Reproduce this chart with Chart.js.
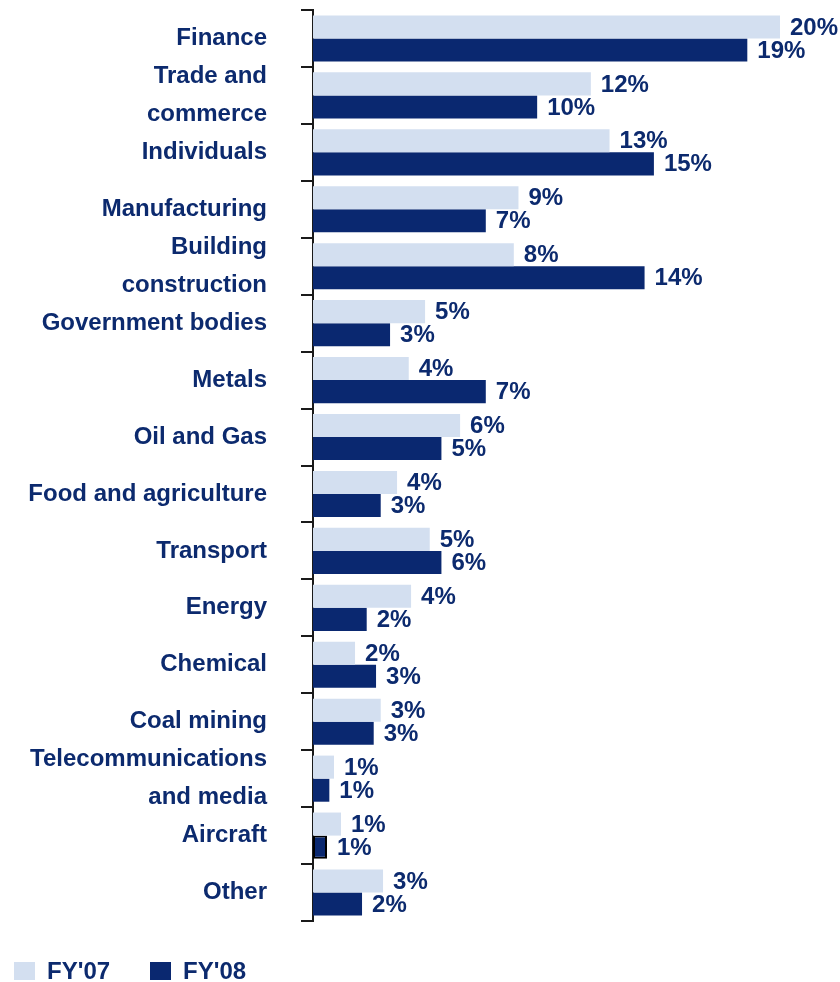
<!DOCTYPE html>
<html>
<head>
<meta charset="utf-8">
<script src="https://cdn.jsdelivr.net/npm/chart.js@4"></script>
<style>
  body { margin: 0; background: #fff; font-family: "Liberation Sans", Arial, sans-serif; }
  #wrap { position: relative; width: 840px; height: 982px; }
  #legend { position: absolute; left: 14px; top: 957px; display: flex; align-items: center;
            font: bold 24px "Liberation Sans", Arial, sans-serif; color: #0c2a6e; }
  #legend .box { width: 21px; height: 18px; display: inline-block; margin-right: 12px; }
  #legend .item { display: flex; align-items: center; margin-right: 40px; }
</style>
</head>
<body>
<div id="wrap">
  <canvas id="sectorChart"></canvas>
  <div id="legend">
    <span class="item"><span class="box" style="background:#d3dff0"></span>FY'07</span>
    <span class="item"><span class="box" style="background:#0a2870"></span>FY'08</span>
  </div>
</div>
<script>
const categorias = [
  'Finance', ['Trade and', 'commerce'], 'Individuals', 'Manufacturing',
  ['Building', 'construction'], 'Government bodies', 'Metals', 'Oil and Gas',
  'Food and agriculture', 'Transport', 'Energy', 'Chemical', 'Coal mining',
  ['Telecommunications', 'and media'], 'Aircraft', 'Other'
];
const fy07 = [20.0, 11.9, 12.7, 8.8, 8.6, 4.8, 4.1, 6.3, 3.6, 5.0, 4.2, 1.8, 2.9, 0.9, 1.2, 3.0];
const fy08 = [18.6, 9.6, 14.6, 7.4, 14.2, 3.3, 7.4, 5.5, 2.9, 5.5, 2.3, 2.7, 2.6, 0.7, 0.6, 2.1];
const etiquetas07 = ['20%', '12%', '13%', '9%', '8%', '5%', '4%', '6%', '4%', '5%', '4%', '2%', '3%', '1%', '1%', '3%'];
const etiquetas08 = ['19%', '10%', '15%', '7%', '14%', '3%', '7%', '5%', '3%', '6%', '2%', '3%', '3%', '1%', '1%', '2%'];

const azulTexto = '#0c2a6e';

// etiquetas de valor al final de cada barra
const valorPlugin = {
  id: 'valores',
  afterDatasetsDraw(chart) {
    const ctx = chart.ctx;
    ctx.save();
    ctx.font = 'bold 24px "Liberation Sans", Arial, sans-serif';
    ctx.fillStyle = azulTexto;
    ctx.textAlign = 'left';
    ctx.textBaseline = 'middle';
    chart.data.datasets.forEach((ds, i) => {
      chart.getDatasetMeta(i).data.forEach((bar, j) => {
        ctx.fillText(ds.etiquetas[j], bar.x + 10, bar.y + 1);
      });
    });
    ctx.restore();
  }
};

new Chart(document.getElementById('sectorChart').getContext('2d'), {
  type: 'bar',
  data: {
    labels: categorias,
    datasets: [
      { label: "FY'07", data: fy07, etiquetas: etiquetas07, backgroundColor: '#d3dff0', borderWidth: 0 },
      { label: "FY'08", data: fy08, etiquetas: etiquetas08, backgroundColor: '#0a2870',
        borderColor: '#000', borderSkipped: false,
        borderWidth: c => c.dataIndex === 14 ? 2 : 0 }
    ]
  },
  options: {
    indexAxis: 'y',
    responsive: true,
    maintainAspectRatio: false,
    animation: false,
    layout: { padding: { left: 0, right: 60, top: 10, bottom: 61 } },
    categoryPercentage: 0.81,
    barPercentage: 1.0,
    plugins: { legend: { display: false }, tooltip: { enabled: false } },
    scales: {
      x: { display: false, min: 0, max: 20 },
      y: {
        afterFit(scale) {
          scale.width = 313;
          scale.paddingTop = 0;
          scale.paddingBottom = 0;
        },
        border: { display: true, color: '#1a1a1a', width: 2 },
        grid: { offset: true, drawOnChartArea: false, drawTicks: true, tickLength: 12, color: '#1a1a1a', lineWidth: 2 },
        ticks: {
          autoSkip: false,
          color: azulTexto,
          padding: 34,
          font: { family: '"Liberation Sans", Arial, sans-serif', size: 24, weight: 'bold', lineHeight: 1.58 }
        }
      }
    }
  },
  plugins: [valorPlugin]
});
</script>
</body>
</html>
